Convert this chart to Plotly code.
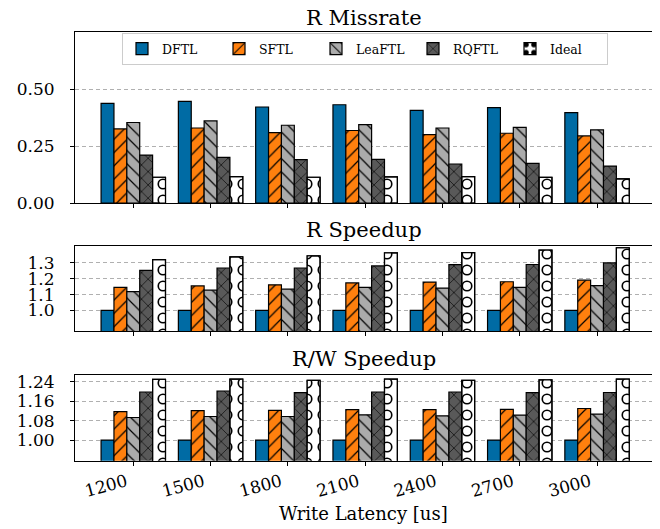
import plotly.graph_objects as go

categories = ["1200", "1500", "1800", "2100", "2400", "2700", "3000"]
methods = ["DFTL", "SFTL", "LeaFTL", "RQFTL", "Ideal"]

# R Missrate
miss_dftl = [0.437, 0.446, 0.421, 0.431, 0.406, 0.418, 0.396]
miss_sftl = [0.325, 0.329, 0.309, 0.318, 0.300, 0.306, 0.294]
miss_leaftl = [0.353, 0.360, 0.341, 0.344, 0.329, 0.332, 0.321]
miss_rqftl = [0.210, 0.200, 0.190, 0.191, 0.171, 0.174, 0.162]
miss_ideal = [0.113, 0.116, 0.113, 0.115, 0.116, 0.112, 0.106]

# R Speedup
rsp_dftl = [1.000, 1.000, 1.000, 1.000, 1.000, 1.000, 1.000]
rsp_sftl = [1.145, 1.155, 1.162, 1.174, 1.179, 1.181, 1.191]
rsp_leaftl = [1.119, 1.128, 1.134, 1.145, 1.141, 1.145, 1.157]
rsp_rqftl = [1.253, 1.268, 1.268, 1.281, 1.289, 1.290, 1.300]
rsp_ideal = [1.321, 1.338, 1.345, 1.364, 1.365, 1.381, 1.396]

# R/W Speedup
rwsp_dftl = [1.000, 1.000, 1.000, 1.000, 1.000, 1.000, 1.000]
rwsp_sftl = [1.117, 1.121, 1.122, 1.125, 1.125, 1.126, 1.130]
rwsp_leaftl = [1.093, 1.097, 1.097, 1.104, 1.100, 1.103, 1.107]
rwsp_rqftl = [1.198, 1.202, 1.195, 1.198, 1.198, 1.195, 1.196]
rwsp_ideal = [1.250, 1.251, 1.246, 1.251, 1.246, 1.248, 1.251]

miss_ticks = [0.0, 0.25, 0.5]
miss_ticktext = ["0.00", "0.25", "0.50"]
rsp_ticks = [1.0, 1.1, 1.2, 1.3]
rsp_ticktext = ["1.0", "1.1", "1.2", "1.3"]
rwsp_ticks = [1.00, 1.08, 1.16, 1.24]
rwsp_ticktext = ["1.00", "1.08", "1.16", "1.24"]

panel_titles = ["R Missrate", "R Speedup", "R/W Speedup"]
xlabel = "Write Latency [us]"

panels = [
    [miss_dftl, miss_sftl, miss_leaftl, miss_rqftl, miss_ideal],
    [rsp_dftl, rsp_sftl, rsp_leaftl, rsp_rqftl, rsp_ideal],
    [rwsp_dftl, rwsp_sftl, rwsp_leaftl, rwsp_rqftl, rwsp_ideal],
]

colors = ["#006BA4", "#FF800E", "#ABABAB", "#595959", "#FFFFFF"]
hatches = ["", "/", "\\", "x", "."]
FONT = "DejaVu Serif"
W = 1 / 6.0
xpos = list(range(len(categories)))

fig = go.Figure()
for p, series in enumerate(panels):
    xa = "x" if p == 0 else "x%d" % (p + 1)
    ya = "y" if p == 0 else "y%d" % (p + 1)
    for k, (name, vals) in enumerate(zip(methods, series)):
        if hatches[k] == ".":
            pat = dict(shape=".", fgcolor="black", bgcolor="white", size=16,
                       solidity=0.38, fillmode="replace")
        elif hatches[k]:
            pat = dict(shape=hatches[k], fgcolor="black", bgcolor=colors[k],
                       size=9.4, solidity=0.13, fillmode="replace")
        else:
            pat = dict(shape="")
        fig.add_trace(go.Bar(
            x=xpos, y=vals, name=name, legendgroup=name,
            showlegend=(p == 0), offset=(k - 2.5) * W, width=W,
            marker=dict(color=colors[k], line=dict(color="black", width=1.2),
                        pattern=pat),
            xaxis=xa, yaxis=ya, hoverinfo="skip",
        ))
        if hatches[k] == ".":
            # inner white dots turn the black dots into rings
            fig.add_trace(go.Bar(
                x=xpos, y=vals, name=name, legendgroup=name, showlegend=False,
                offset=(k - 2.5) * W, width=W,
                marker=dict(color="rgba(0,0,0,0)",
                            line=dict(color="black", width=1.2),
                            pattern=dict(shape=".", fgcolor="white",
                                         bgcolor="rgba(0,0,0,0)", size=16,
                                         solidity=0.19, fillmode="replace")),
                xaxis=xa, yaxis=ya, hoverinfo="skip",
            ))

# the page body adds an 8px offset; size the figure so that window pixels match
OFF = 8
FW, FH = 660 - OFF, 529 - OFF


def px(X):
    return (X - OFF) / FW


def py(Y):
    return 1 - (Y - OFF) / FH


xdom = [px(75), px(652.7)]
ydoms = [
    [py(203), py(32)],
    [py(331), py(246)],
    [py(460.7), py(375)],
]
yranges = [[0, 0.75], [0.87, 1.407], [0.915, 1.268]]
yticks = [(miss_ticks, miss_ticktext), (rsp_ticks, rsp_ticktext), (rwsp_ticks, rwsp_ticktext)]
title_shift = [0, 2, 2]

layout = dict(
    width=FW, height=FH,
    margin=dict(l=0, r=0, t=0, b=0, autoexpand=False),
    paper_bgcolor="white", plot_bgcolor="white",
    font=dict(family=FONT, color="black", size=17),
    barmode="overlay",
    showlegend=True,
    legend=dict(orientation="h", x=px(365), xanchor="center",
                y=py(33), yanchor="top", bgcolor="white",
                bordercolor="#cccccc", borderwidth=1,
                font=dict(family=FONT, size=12.5),
                entrywidth=52, entrywidthmode="pixels"),
    annotations=[],
)

for p in range(3):
    sx = "" if p == 0 else str(p + 1)
    layout["xaxis" + sx] = dict(
        domain=xdom, range=[-0.754, 6.72], anchor="y" + sx,
        tickmode="array", tickvals=xpos, ticktext=categories,
        showticklabels=(p == 2), tickangle=-15, automargin=False,
        ticklabelshift=-7,
        ticks="outside", ticklen=4, tickcolor="black", tickwidth=1,
        showline=True, mirror=True, linecolor="black", linewidth=1,
        showgrid=False, zeroline=False,
        tickfont=dict(family=FONT, size=17),
    )
    tv, tt = yticks[p]
    layout["yaxis" + sx] = dict(
        domain=ydoms[p], range=yranges[p], anchor="x" + sx,
        tickmode="array", tickvals=tv, ticktext=tt, automargin=False,
        ticks="outside", ticklen=4, tickcolor="black", tickwidth=1,
        ticklabelstandoff=12,
        showline=True, mirror=True, linecolor="black", linewidth=1,
        showgrid=True, gridcolor="#b0b0b0", gridwidth=1, griddash="4px,3px",
        zeroline=False,
        tickfont=dict(family=FONT, size=17),
    )
    layout["annotations"].append(dict(
        text=panel_titles[p], xref="paper", yref="paper",
        x=(xdom[0] + xdom[1]) / 2, y=ydoms[p][1], xanchor="center",
        yanchor="bottom", yshift=title_shift[p], showarrow=False,
        font=dict(family=FONT, size=21),
    ))

layout["annotations"].append(dict(
    text=xlabel, xref="paper", yref="paper",
    x=(xdom[0] + xdom[1]) / 2, y=py(513), xanchor="center",
    yanchor="middle", showarrow=False, font=dict(family=FONT, size=18),
))

fig.update_layout(**layout)
fig.write_html("out.html")
